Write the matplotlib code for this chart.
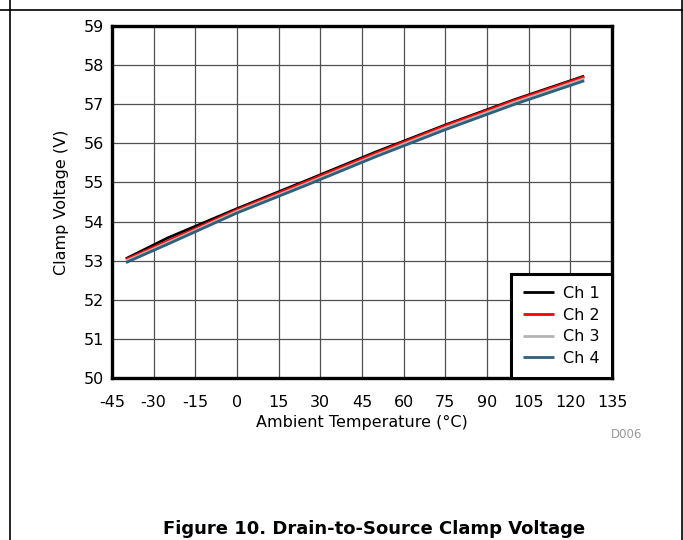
import matplotlib
matplotlib.use("Agg")
import matplotlib.pyplot as plt
from matplotlib.lines import Line2D

plt.rcParams['font.family'] = ['DejaVu Sans']
plt.rcParams['axes.unicode_minus'] = False

temps = [-40, -25, 0, 25, 50, 75, 100, 125]
ch1 = [53.05, 53.58, 54.33, 55.05, 55.78, 56.47, 57.12, 57.72]
ch2 = [53.03, 53.50, 54.30, 55.02, 55.75, 56.45, 57.10, 57.70]
ch3 = [52.99, 53.46, 54.26, 54.97, 55.70, 56.40, 57.05, 57.65]
ch4 = [52.95, 53.42, 54.22, 54.93, 55.66, 56.35, 57.00, 57.60]
labels = ['Ch 1', 'Ch 2', 'Ch 3', 'Ch 4']
colors = ['#000000', '#ff0000', '#b4b4b4', '#2f5f7a']
xticks = list(range(-45, 136, 15))
yticks = list(range(50, 60))

W, H = 683, 540
fig = plt.figure(figsize=(W/100, H/100), dpi=100)
ax = fig.add_axes([112/W, 1-378/H, 500/W, 352/H])

for ys, lab, c in zip([ch1, ch2, ch3, ch4], labels, colors):
    ax.plot(temps, ys, color=c, lw=2.0, label=lab, solid_capstyle='butt')

ax.set_xlim(-45, 135)
ax.set_ylim(50, 59)
ax.set_xticks(xticks)
ax.set_yticks(yticks)
ax.tick_params(axis='x', length=0, labelsize=11.5, pad=12, colors='black')
ax.tick_params(axis='y', length=0, labelsize=11.5, pad=6, colors='black')
ax.grid(True, color='#505050', lw=0.9)
ax.set_axisbelow(True)
for s in ax.spines.values():
    s.set_linewidth(2.4)
    s.set_color('black')

ax.set_xlabel('Ambient Temperature (°C)', fontsize=11.5, labelpad=4)
ax.set_ylabel('Clamp Voltage (V)', fontsize=11.5, labelpad=10)

leg = ax.legend(loc='lower right', borderaxespad=0, fancybox=False,
                framealpha=1, edgecolor='black', fontsize=11.5,
                handlelength=1.9, handletextpad=0.6, labelspacing=0.42,
                borderpad=0.75)
leg.get_frame().set_linewidth(2.2)

fig.text(627/W, 1-435/H, 'D006', fontsize=8.5, color='#999999', ha='center', va='center')
fig.text(374/W, 1-529/H, 'Figure 10. Drain-to-Source Clamp Voltage', fontsize=13,
         fontweight='bold', ha='center', va='center')

fig.add_artist(Line2D([9.5/W, 9.5/W], [0, 1], color='black', lw=1.2, transform=fig.transFigure))
fig.add_artist(Line2D([681.5/W, 681.5/W], [0, 1], color='black', lw=1.2, transform=fig.transFigure))
fig.add_artist(Line2D([0, 1], [1-9.5/H, 1-9.5/H], color='black', lw=1.2, transform=fig.transFigure))

fig.savefig('out.png', dpi=100)
